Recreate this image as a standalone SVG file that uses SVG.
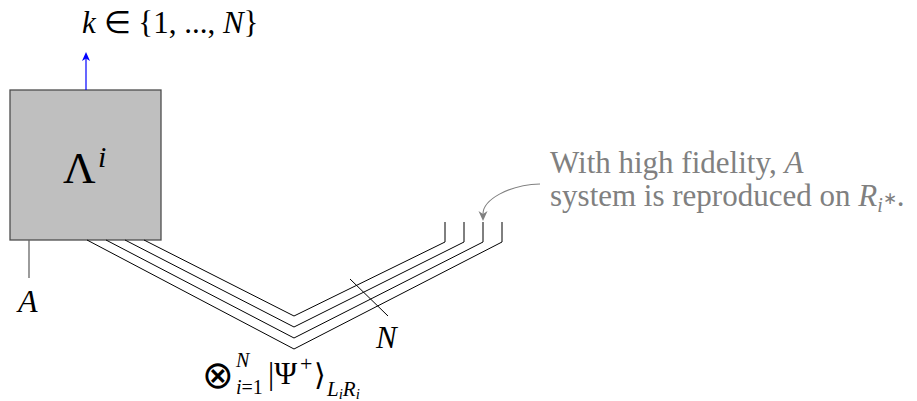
<svg xmlns="http://www.w3.org/2000/svg" width="917" height="401" viewBox="0 0 917 401">
<rect width="917" height="401" fill="#fff"/>

<g id="box">
<rect x="10" y="90" width="151" height="150" fill="#bfbfbf" stroke="#4d4d4d" stroke-width="1.3"/>
<text x="63" y="183" font-size="45" font-family="Times New Roman, serif">Λ</text>
<text x="98" y="167" font-size="30" font-family="Times New Roman, serif" font-style="italic">i</text>
</g>

<g id="output">
<text x="82" y="33" font-size="31" font-family="Times New Roman, serif"><tspan font-style="italic">k</tspan> ∈ {1, ..., <tspan font-style="italic">N</tspan>}</text>
</g>

<g id="inputA">
<text x="18" y="312" font-size="32" font-family="Times New Roman, serif" font-style="italic">A</text>
</g>

<g id="entangled">
<text x="202" y="388" font-size="38" font-family="DejaVu Sans">⊗</text>
<text x="236" y="367" font-size="20" font-family="Times New Roman, serif" font-style="italic">N</text>
<text x="236" y="394" font-size="20" font-family="Times New Roman, serif"><tspan font-style="italic">i</tspan>=1</text>
<text x="268" y="384" font-size="31" font-family="Times New Roman, serif">|Ψ</text>
<text x="300" y="371" font-size="22" font-family="Times New Roman, serif">+</text>
<text x="314" y="385" font-size="30" font-family="DejaVu Sans">⟩</text>
<text x="327" y="396" font-size="21" font-family="Times New Roman, serif" font-style="italic">L<tspan font-size="15" dy="3">i</tspan><tspan dy="-3">R</tspan><tspan font-size="15" dy="3">i</tspan></text>
</g>

<g id="Nlabel">
<text x="376" y="348" font-size="31" font-family="Times New Roman, serif" font-style="italic">N</text>
</g>

<text id="note1" x="550" y="173" font-size="31" font-family="Liberation Serif" fill="#808080">With high fidelity, <tspan font-style="italic">A</tspan></text>
<text id="note2" x="550" y="206" font-size="31" font-family="Liberation Serif" fill="#808080">system is reproduced on <tspan font-style="italic">R</tspan><tspan font-style="italic" font-size="20" dy="6">i</tspan><tspan font-size="17" dy="-8">∗</tspan><tspan dy="2">.</tspan></text>

<g id="connectors" fill="none">
<line x1="86" y1="90" x2="86" y2="58" stroke="#0000ff" stroke-width="1.2"/>
<path d="M86,52 L90,61 L86,58.5 L82,61 Z" fill="#0000ff"/>
<line x1="29" y1="240" x2="29" y2="278" stroke="#666" stroke-width="1.3"/>
<polyline points="87,240 294,349 502,242 502,222" stroke="#000" stroke-width="1"/>
<polyline points="106,240 294,338 483,242 483,222" stroke="#000" stroke-width="1"/>
<polyline points="125,240 294,327 464,242 464,222" stroke="#000" stroke-width="1"/>
<polyline points="144,240 294,316 445,242 445,222" stroke="#000" stroke-width="1"/>
<line x1="350" y1="279" x2="388" y2="316" stroke="#000" stroke-width="1"/>
<path d="M540,184 C508,185 483,200 483,214" stroke="#808080" stroke-width="1.1"/>
<path d="M483,221 L478.5,211 L483,214 L487.5,211 Z" fill="#808080"/>
</g>
</svg>
